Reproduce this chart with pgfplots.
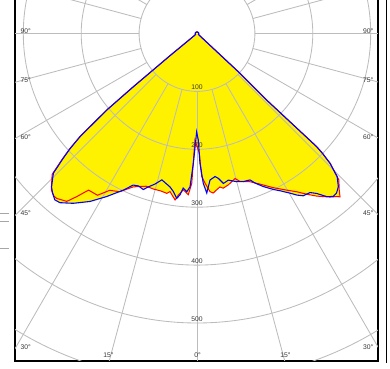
\documentclass[border=0pt]{standalone}
\usepackage{fontspec}
\setmainfont{Liberation Sans}
\usepackage{pgfplots}
\pgfplotsset{compat=1.18}
\usepackage{pgfplotstable}

% gamma angle (deg, from nadir, positive to the right) and intensity (cd)
\pgfplotstableread{
g I
-180 3
-120 3
-90 3
-60 3
-52 5
-50.6 60
-50.1 143
-49.7 204
-48.6 269
-47.8 296
-47.0 316
-45.8 346
-43.5 365
-42.1 372
-40.5 378
-39.0 376
-36.1 363
-32.5 344
-29.0 322
-25.2 299
-22.8 284
-21.0 282
-19.0 285
-17.6 278
-15.6 270
-13.5 260
-10.0 269
-8.5 276
-7.0 287
-6.0 280
-5.1 268
-3.7 274
-2.6 265
-1.6 224
-0.2 170
0.7 184
1.3 224
2.4 259
3.5 276
5.1 254
7.2 249
8.4 253
10.0 263
12.1 259
15.0 265
17.4 268
19.9 269
21.2 277
23.4 288
26.1 300
27.8 307
30.2 319
31.7 328
33.2 335
35.4 337
36.8 345
38.5 360
39.9 367
41.2 366
42.7 360
44.4 346
45.7 321
46.3 300
46.6 284
46.5 229
46.3 166
47.2 101
47.5 46
52 5
60 3
90 3
120 3
180 3
}\blueC

\pgfplotstableread{
g I
-180 3
-120 3
-90 3
-60 3
-52 5
-50.6 60
-50.1 143
-49.7 205
-48.6 270
-47.8 297
-47.0 318
-45.8 349
-43.0 369
-41.4 374
-40.4 374
-37.8 367
-36.4 350
-34.7 329
-31.6 328
-29.1 310
-26.0 304
-22.6 287
-20.5 282
-18.4 278
-15.7 279
-13.0 279
-10.7 281
-9.7 277
-7.5 290
-6.6 281
-5.0 271
-3.1 279
-2.0 259
-1.1 184
1.1 207
1.9 247
3.1 259
4.7 274
5.8 277
7.2 272
8.5 268
9.6 271
11.7 267
14.7 259
16.2 266
19.7 272
22.7 282
26.3 297
29.4 310
32.2 323
34.3 336
36.4 349
39.1 364
40.6 371
41.2 375
42.3 365
44.1 352
45.7 322
46.3 301
46.6 285
46.5 229
46.3 166
47.2 101
47.5 46
52 5
60 3
90 3
120 3
180 3
}\redC

\definecolor{gridc}{RGB}{188,188,188}
\definecolor{txt}{RGB}{55,55,55}
\pgfplotsset{polarbox/.style={
  x=0.579bp, y=0.579bp,
  xmin=-314.3, xmax=312.6, ymin=-565.6, ymax=90,
  xtick=\empty, ytick=\empty,
  no markers,
}}

\begin{document}
\begin{tikzpicture}
% layer 1: yellow areas
\begin{axis}[polarbox, axis line style={draw=none}]
\addplot[fill=yellow, draw=none, data cs=polar] table[x expr=\thisrow{g}-90, y=I]{\redC};
\addplot[fill=yellow, draw=none, data cs=polar] table[x expr=\thisrow{g}-90, y=I]{\blueC};
\end{axis}
% layer 2: grid, curves, frame, labels
\begin{axis}[polarbox, axis line style={black, line width=1.6bp}]
\pgfplotsinvokeforeach{100,200,300,400,500,600,700}{
  \draw[gridc, line width=0.85bp] (axis cs:0,0) circle[radius=#1];
}
\pgfplotsinvokeforeach{0,15,30,45,60,75,90,105,120,135,150,165,180,195,210,225,240,255,270,285,300,315,330,345}{
  \draw[gridc, line width=0.85bp] (axis cs:{100*cos(#1)},{100*sin(#1)}) -- (axis cs:{1000*cos(#1)},{1000*sin(#1)});
}
\addplot[red, line width=1.0bp, data cs=polar] table[x expr=\thisrow{g}-90, y=I]{\redC};
\addplot[blue, line width=1.1bp, data cs=polar] table[x expr=\thisrow{g}-90, y=I]{\blueC};
\foreach \r in {100,200,300,400,500}{
  \edef\tmp{\noexpand\node[anchor=south, inner sep=0pt, yshift=1.2bp, text=txt, font=\noexpand\fontsize{6.8}{8}\noexpand\selectfont] at (axis cs:0,-\r) {\r};}
  \tmp
}
\coordinate (P0) at (axis cs:-340.24,57.86);
\end{axis}
\begin{scope}[every node/.style={text=txt, inner sep=0pt, font=\fontsize{6.8}{8}\selectfont}]
\node[anchor=west] at ([shift={(20.5bp,-31.5bp)}]P0) {90°};
\node[anchor=west] at ([shift={(20.5bp,-80bp)}]P0) {75°};
\node[anchor=west] at ([shift={(20.5bp,-137bp)}]P0) {60°};
\node[anchor=west] at ([shift={(20.5bp,-213bp)}]P0) {45°};
\node[anchor=west] at ([shift={(20.5bp,-347bp)}]P0) {30°};
\node[anchor=east] at ([shift={(373.5bp,-31.5bp)}]P0) {90°};
\node[anchor=east] at ([shift={(373.5bp,-80bp)}]P0) {75°};
\node[anchor=east] at ([shift={(373.5bp,-137bp)}]P0) {60°};
\node[anchor=east] at ([shift={(373.5bp,-213bp)}]P0) {45°};
\node[anchor=east] at ([shift={(373.5bp,-347bp)}]P0) {30°};
\node at ([shift={(108.5bp,-355bp)}]P0) {15°};
\node at ([shift={(197.5bp,-355bp)}]P0) {0°};
\node at ([shift={(285.5bp,-355bp)}]P0) {15°};
\end{scope}
\draw[black, line width=1.8bp] ([shift={(386.5bp,0bp)}]P0) -- ([shift={(386.5bp,-363bp)}]P0);
\draw[gray!70, line width=0.8bp] ([shift={(0bp,-213.3bp)}]P0) -- ([shift={(9bp,-213.3bp)}]P0);
\draw[gray!70, line width=0.8bp] ([shift={(0bp,-221.7bp)}]P0) -- ([shift={(9bp,-221.7bp)}]P0);
\draw[gray!70, line width=0.8bp] ([shift={(0bp,-248.3bp)}]P0) -- ([shift={(9bp,-248.3bp)}]P0);
\pgfresetboundingbox
\useasboundingbox (P0) rectangle ([shift={(390bp,-369bp)}]P0);
\end{tikzpicture}
\end{document}
